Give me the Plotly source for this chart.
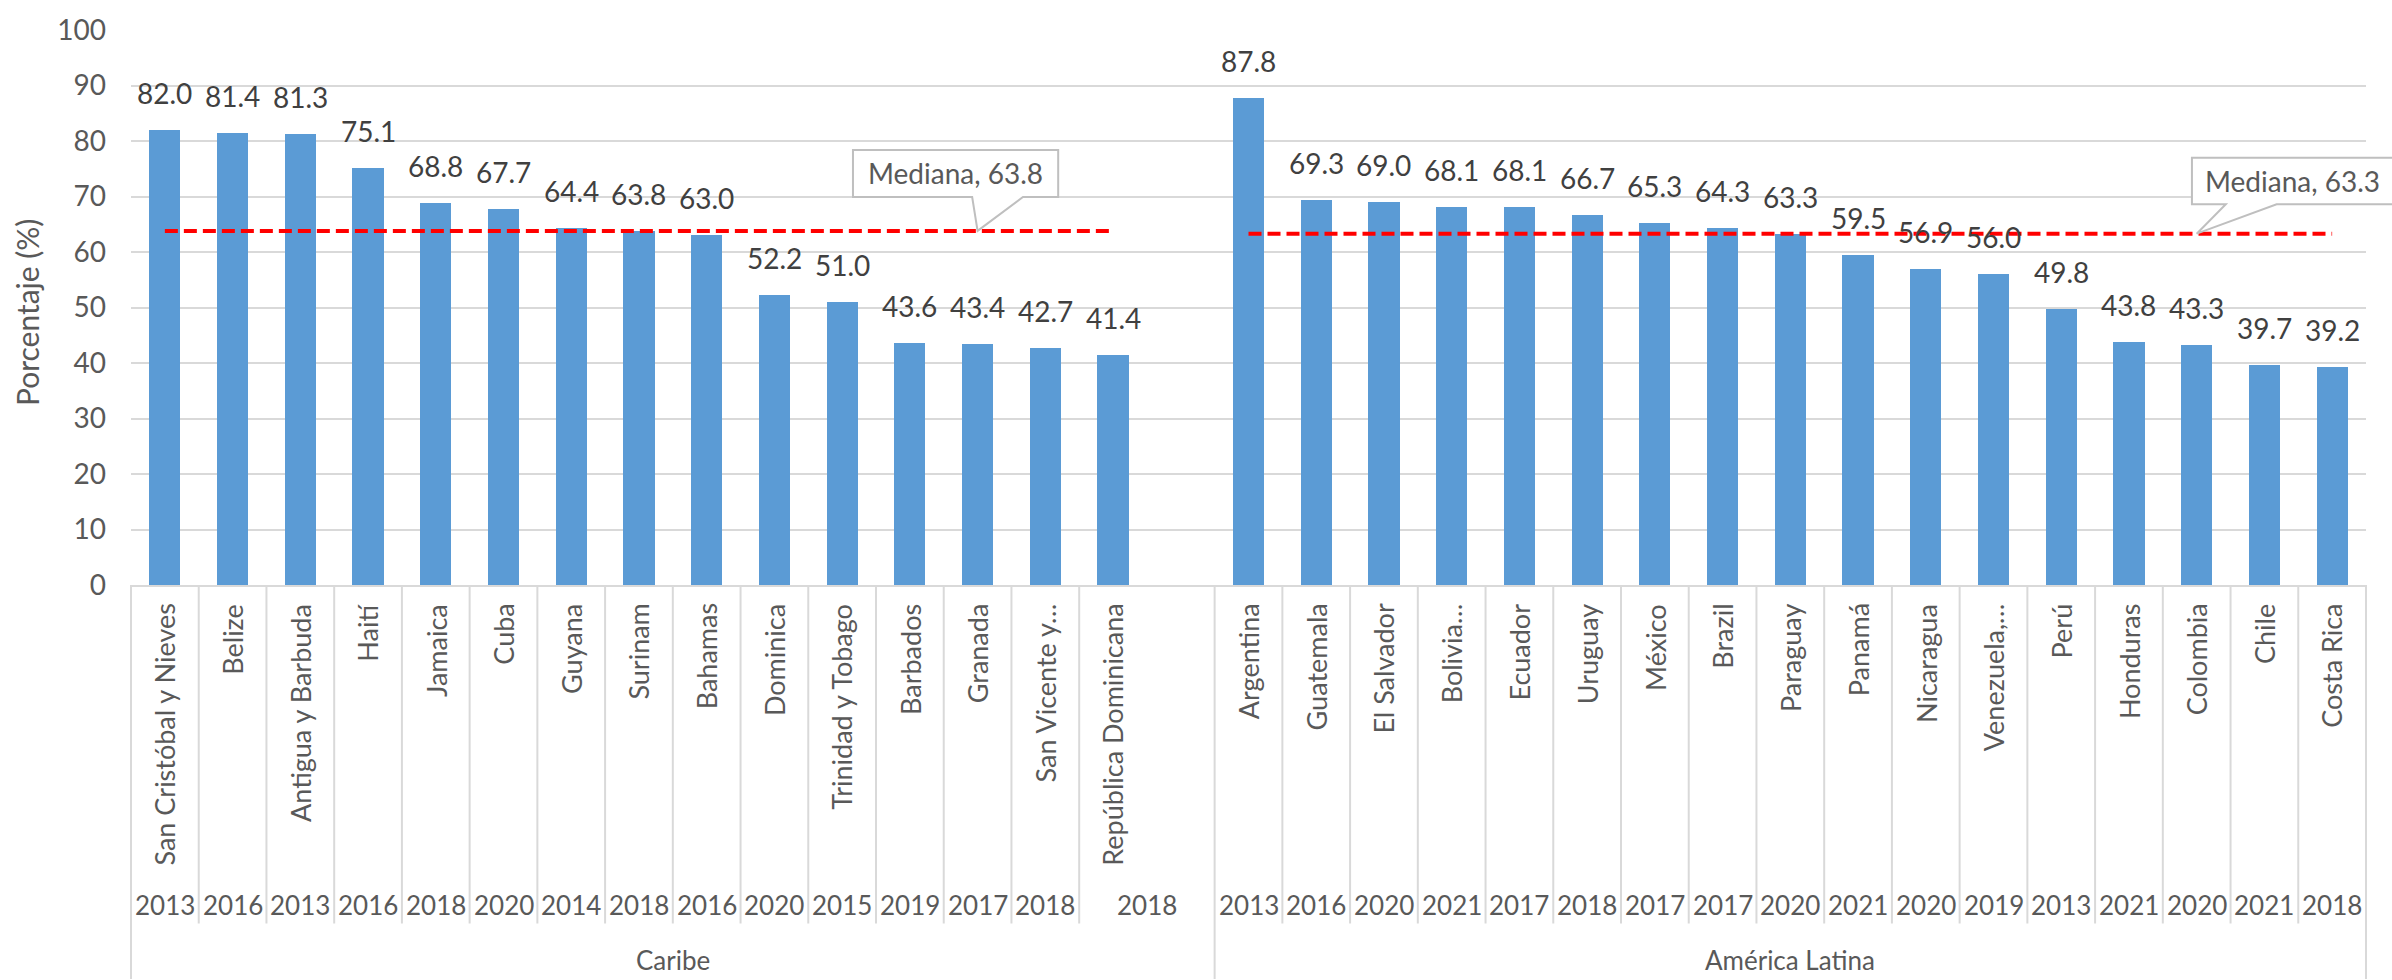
import plotly.graph_objects as go

# --- data -------------------------------------------------------------
caribe_paises = ["San Cristóbal y Nieves", "Belize", "Antigua y Barbuda", "Haití", "Jamaica",
                 "Cuba", "Guyana", "Surinam", "Bahamas", "Dominica", "Trinidad y Tobago",
                 "Barbados", "Granada", "San Vicente y…", "República Dominicana"]
caribe_anios = ["2013", "2016", "2013", "2016", "2018", "2020", "2014", "2018", "2016",
                "2020", "2015", "2019", "2017", "2018", "2018"]
caribe_valores = [82.0, 81.4, 81.3, 75.1, 68.8, 67.7, 64.4, 63.8, 63.0, 52.2, 51.0,
                  43.6, 43.4, 42.7, 41.4]
caribe_mediana = 63.8

latam_paises = ["Argentina", "Guatemala", "El Salvador", "Bolivia…", "Ecuador", "Uruguay",
                "México", "Brazil", "Paraguay", "Panamá", "Nicaragua", "Venezuela,…",
                "Perú", "Honduras", "Colombia", "Chile", "Costa Rica"]
latam_anios = ["2013", "2016", "2020", "2021", "2017", "2018", "2017", "2017", "2020",
               "2021", "2020", "2019", "2013", "2021", "2020", "2021", "2018"]
latam_valores = [87.8, 69.3, 69.0, 68.1, 68.1, 66.7, 65.3, 64.3, 63.3, 59.5, 56.9, 56.0,
                 49.8, 43.8, 43.3, 39.7, 39.2]
latam_mediana = 63.3

grupos = ["Caribe", "América Latina"]

# --- layout constants ---------------------------------------------------
W, H = 2392, 980
M_L, M_R, M_T, M_B = 131, 26, 24, 395
BAR_COLOR = "#5B9BD5"
GRID = "#D9D9D9"
AXIS_TXT = "#595959"
LABEL_TXT = "#404040"
FONT = "Lato"

# category slots: Caribe, one empty slot, then América Latina
x_car = list(range(len(caribe_valores)))
gap = len(caribe_valores)          # empty slot closing the Caribe group
x_lat = [gap + 1 + i for i in range(len(latam_valores))]
n_slots = x_lat[-1] + 1
x_min, x_max = -0.5, n_slots - 0.5


def px(x):
    """data x -> paper x"""
    return (x - x_min) / (x_max - x_min)


def py(y):
    """data y -> paper y"""
    return y / 100.0


fig = go.Figure()

# bars
fig.add_trace(go.Bar(x=x_car + x_lat, y=caribe_valores + latam_valores,
                     width=0.46, marker=dict(color=BAR_COLOR, line=dict(width=0)),
                     hoverinfo="skip", showlegend=False))

# median lines
for xs, med in ((x_car, caribe_mediana), (x_lat, latam_mediana)):
    fig.add_trace(go.Scatter(x=[xs[0], xs[-1]], y=[med, med], mode="lines",
                             line=dict(color="#FF0000", width=4, dash="13px,6px"),
                             hoverinfo="skip", showlegend=False))

annotations = []
shapes = []

# value labels above bars
for xs, vals in ((x_car, caribe_valores), (x_lat, latam_valores)):
    for x, v in zip(xs, vals):
        annotations.append(dict(x=x, y=v, xref="x", yref="y", text=f"{v:.1f}",
                                showarrow=False, yanchor="bottom", yshift=18,
                                font=dict(family=FONT, size=28, color=LABEL_TXT)))

# country names (rotated)
for xs, names in ((x_car, caribe_paises), (x_lat, latam_paises)):
    for x, name in zip(xs, names):
        annotations.append(dict(x=x, y=-0.03, xref="x", yref="paper", text=name,
                                textangle=-90, showarrow=False, yanchor="top",
                                font=dict(family=FONT, size=27, color=AXIS_TXT)))

# survey years; the last Caribe year is centred over its merged two-slot cell
year_pos = x_car[:-1] + [(x_car[-1] + gap) / 2] + x_lat
for x, yr in zip(year_pos, caribe_anios + latam_anios):
    annotations.append(dict(x=x, y=-0.576, xref="x", yref="paper", text=yr,
                            showarrow=False, yanchor="middle",
                            font=dict(family=FONT, size=26, color=AXIS_TXT)))

# group names
grp_bounds = [(x_min, gap + 0.5), (gap + 0.5, x_max)]
for (a, b), g in zip(grp_bounds, grupos):
    annotations.append(dict(x=(a + b) / 2, y=-0.676, xref="x", yref="paper", text=g,
                            showarrow=False, yanchor="middle",
                            font=dict(family=FONT, size=26, color=AXIS_TXT)))

# y-axis title
annotations.append(dict(x=(27 - M_L) / (W - M_L - M_R), y=0.49, xref="paper", yref="paper",
                        text="Porcentaje (%)", textangle=-90, showarrow=False,
                        xanchor="center", yanchor="middle",
                        font=dict(family=FONT, size=30, color=AXIS_TXT)))

# category dividers below the axis
inner_bottom = -0.61
outer_bottom = -0.71
inner_div = [x + 0.5 for x in x_car[:-1]] + [x + 0.5 for x in x_lat[:-1]]
for xd in inner_div:
    shapes.append(dict(type="line", xref="paper", yref="paper", x0=px(xd), x1=px(xd),
                       y0=0, y1=inner_bottom, line=dict(color=GRID, width=2)))
for xd in (x_min, gap + 0.5, x_max):
    shapes.append(dict(type="line", xref="paper", yref="paper", x0=px(xd), x1=px(xd),
                       y0=0, y1=outer_bottom, line=dict(color=GRID, width=2)))


# callout boxes for the medians
def callout(x0, x1, y0, y1, wl, wr, xt, yt, label):
    path = (f"M {px(x0)},{py(y1)} L {px(x1)},{py(y1)} L {px(x1)},{py(y0)} "
            f"L {px(wr)},{py(y0)} L {px(xt)},{py(yt)} L {px(wl)},{py(y0)} "
            f"L {px(x0)},{py(y0)} Z")
    shapes.append(dict(type="path", xref="paper", yref="paper", path=path,
                       fillcolor="white", line=dict(color="#BFBFBF", width=2),
                       layer="above"))
    annotations.append(dict(x=px((x0 + x1) / 2), y=py((y0 + y1) / 2), xref="paper",
                            yref="paper", text=label, showarrow=False,
                            xanchor="center", yanchor="middle",
                            font=dict(family=FONT, size=28, color=AXIS_TXT)))


callout(10.16, 13.19, 69.9, 78.4, 11.92, 12.67, 12.0, caribe_mediana,
        f"Mediana, {caribe_mediana:.1f}")
callout(29.93, 32.9, 68.6, 77.0, 30.43, 31.18, 30.0, latam_mediana,
        f"Mediana, {latam_mediana:.1f}")

fig.update_layout(
    width=W, height=H,
    margin=dict(l=M_L, r=M_R, t=M_T, b=M_B, pad=0),
    paper_bgcolor="white", plot_bgcolor="white",
    bargap=0,
    xaxis=dict(range=[x_min, x_max], showticklabels=False, showgrid=False,
               zeroline=False, showline=True, linecolor=GRID, linewidth=2,
               fixedrange=True),
    yaxis=dict(range=[0, 100], dtick=10, showgrid=True, gridcolor=GRID, gridwidth=2,
               zeroline=False, showline=False, ticks="",
               tickfont=dict(family=FONT, size=28, color=AXIS_TXT),
               ticklabelstandoff=24, fixedrange=True),
    annotations=annotations,
    shapes=shapes,
    font=dict(family=FONT),
)

fig.write_html("out.html", include_plotlyjs=True, config={"displayModeBar": False})
